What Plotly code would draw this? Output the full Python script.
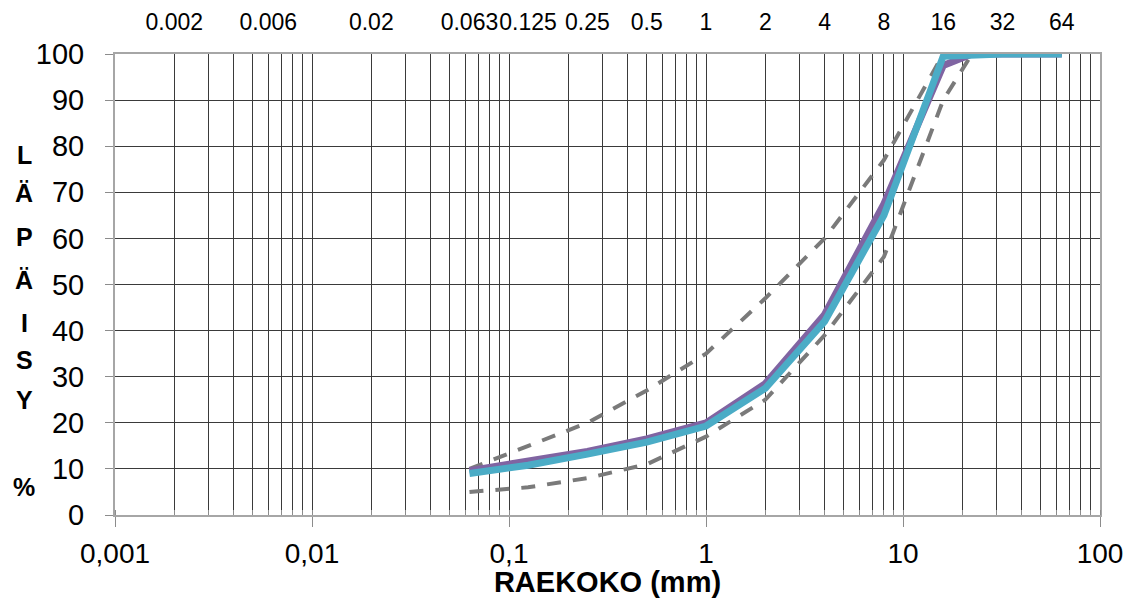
import plotly.graph_objects as go

# ---- data ----
purple_x = [0.063, 0.125, 0.25, 0.5, 1, 2, 4, 8, 16, 22.4, 64]
purple_y = [9.6, 11.5, 13.8, 16.5, 20, 28.5, 43.5, 67.5, 97.5, 100, 100]
cyan_x = [0.063, 0.125, 0.25, 0.5, 1, 2, 4, 8, 16, 32, 64]
cyan_y = [9, 10.8, 13.2, 15.8, 19.3, 27.5, 42, 65, 99.5, 100, 100]
upper_x = [0.063, 0.125, 0.25, 0.5, 1, 2, 4, 8, 16, 64]
upper_y = [10, 15, 20, 27, 35, 47, 60, 77, 100, 100]
lower_x = [0.063, 0.125, 0.25, 0.5, 1, 2, 4, 8, 16, 22.4]
lower_y = [5, 6, 8, 11, 17, 25, 39, 56, 90, 100]

bottom_tickvals = [0.001, 0.01, 0.1, 1, 10, 100]
bottom_ticktext = ["0,001", "0,01", "0,1", "1", "10", "100"]
top_tickvals = [0.002, 0.006, 0.02, 0.063, 0.125, 0.25, 0.5, 1, 2, 4, 8, 16, 32, 64]
top_ticktext = ["0.002", "0.006", "0.02", "0.063", "0.125", "0.25", "0.5",
                "1", "2", "4", "8", "16", "32", "64"]
y_title_letters = ["L", "Ä", "P", "Ä", "I", "S", "Y", "%"]
y_title_pos = [155, 193, 237, 280, 323, 360, 400, 487]  # pixel rows on page

OFF = 8  # default page body margin
W, H = 1141 - OFF, 598 - OFF
ML, MR, MT, MB = 115 - OFF, 41, 54 - OFF, 83

fig = go.Figure()
dash_style = dict(color="#7a7a7a", width=4, dash="14px,12px")
fig.add_trace(go.Scatter(x=upper_x, y=upper_y, mode="lines", line=dash_style, showlegend=False))
fig.add_trace(go.Scatter(x=lower_x, y=lower_y, mode="lines", line=dash_style, showlegend=False))
fig.add_trace(go.Scatter(x=purple_x, y=purple_y, mode="lines",
                         line=dict(color="#8064A2", width=7), showlegend=False))
fig.add_trace(go.Scatter(x=cyan_x, y=cyan_y, mode="lines",
                         line=dict(color="#4BACC6", width=7), showlegend=False))
# invisible trace for the top axis
fig.add_trace(go.Scatter(x=[0.001, 100], y=[0, 0], xaxis="x2", mode="lines",
                         line=dict(width=0), hoverinfo="skip", showlegend=False))

grid_col = "#3a3a3a"
fig.update_layout(
    width=W, height=H,
    margin=dict(l=ML, r=MR, t=MT, b=MB, autoexpand=False),
    paper_bgcolor="white", plot_bgcolor="white",
    font=dict(family="Liberation Sans, Arial, sans-serif", color="black"),
    xaxis=dict(
        type="log", range=[-3, 2], automargin=False,
        tickvals=bottom_tickvals, ticktext=bottom_ticktext,
        tickfont=dict(size=28), ticklabelstandoff=2, tickangle=0,
        ticks="outside", ticklen=10, tickcolor="#8c8c8c", tickwidth=1,
        showgrid=True, gridcolor=grid_col, gridwidth=1,
        minor=dict(dtick="D1", showgrid=True, gridcolor=grid_col, gridwidth=1,
                   ticks="inside", ticklen=5, tickcolor="#8c8c8c"),
        showline=True, linecolor="#a6a6a6", linewidth=2, mirror=True,
        zeroline=False,
        title=dict(text="<b>RAEKOKO (mm)</b>", font=dict(size=29), standoff=8),
    ),
    xaxis2=dict(
        type="log", range=[-3, 2], overlaying="x", side="top", automargin=False,
        tickvals=top_tickvals, ticktext=top_ticktext, tickangle=0,
        tickfont=dict(size=23), ticks="", showgrid=False, zeroline=False,
        showline=False, ticklabelstandoff=18,
    ),
    yaxis=dict(
        range=[0, 100], tickvals=list(range(0, 101, 10)), automargin=False,
        tickfont=dict(size=29), ticklabelstandoff=15,
        ticks="outside", ticklen=8, tickcolor="#8c8c8c",
        showgrid=True, gridcolor=grid_col, gridwidth=1,
        showline=True, linecolor="#a6a6a6", linewidth=2, mirror=True,
        zeroline=False,
    ),
)

for letter, py in zip(y_title_letters, y_title_pos):
    fig.add_annotation(text="<b>%s</b>" % letter, xref="paper", yref="paper",
                       x=(24 - OFF - ML) / (W - ML - MR),
                       y=(H - MB - (py - OFF)) / (H - MT - MB),
                       showarrow=False, font=dict(size=25, color="black"),
                       xanchor="center", yanchor="middle")

fig.write_html("out.html")
